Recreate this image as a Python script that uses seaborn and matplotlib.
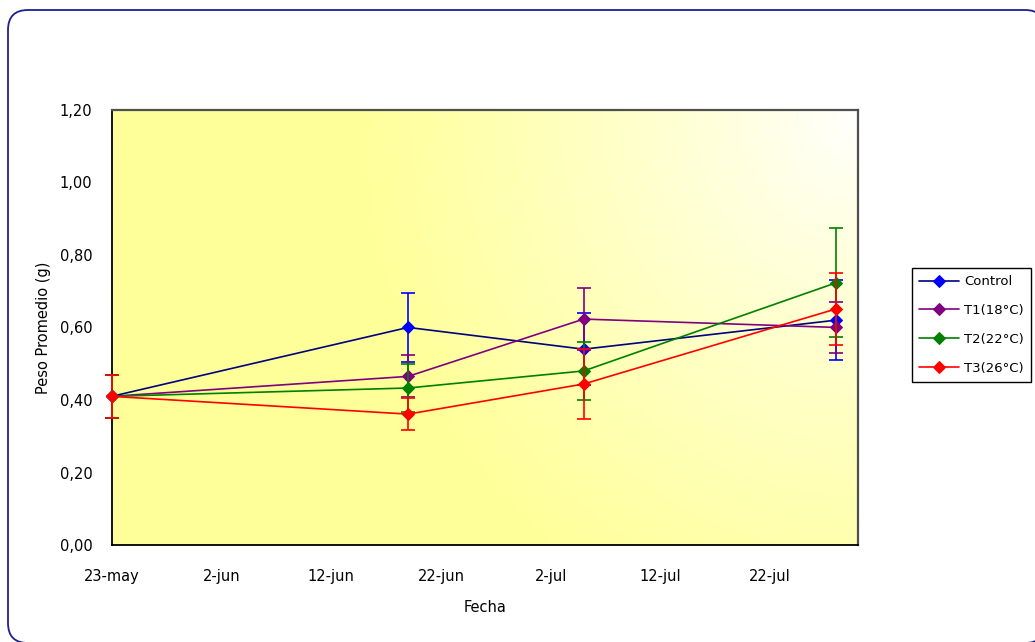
import numpy as np
import pandas as pd
import matplotlib
matplotlib.use("Agg")
import matplotlib.pyplot as plt
from matplotlib.patches import BoxStyle, Polygon
from matplotlib.colors import LinearSegmentedColormap
import seaborn as sns

# Sampling dates and mean weight per treatment (g), with standard deviations
fechas = ["2008-05-23", "2008-06-19", "2008-07-05", "2008-07-28"]
series = ["Control", "T1(18°C)", "T2(22°C)", "T3(26°C)"]
control = [0.41, 0.60, 0.54, 0.62]
control_err = [0.06, 0.095, 0.10, 0.11]
t1 = [0.41, 0.465, 0.623, 0.60]
t1_err = [0.06, 0.058, 0.086, 0.07]
t2 = [0.41, 0.433, 0.48, 0.723]
t2_err = [0.06, 0.065, 0.08, 0.15]
t3 = [0.41, 0.361, 0.444, 0.651]
t3_err = [0.06, 0.045, 0.096, 0.10]

x_ticks = ["2008-05-23", "2008-06-02", "2008-06-12", "2008-06-22",
           "2008-07-02", "2008-07-12", "2008-07-22"]
x_tick_labels = ["23-may", "2-jun", "12-jun", "22-jun", "2-jul", "12-jul", "22-jul"]
y_ticks = [0.0, 0.2, 0.4, 0.6, 0.8, 1.0, 1.2]
y_tick_labels = ["0,00", "0,20", "0,40", "0,60", "0,80", "1,00", "1,20"]

line_colors = ["#000080", "#800080", "#008000", "#FF0000"]
marker_colors = ["#0000FF", "#800080", "#008000", "#FF0000"]

means = [control, t1, t2, t3]
errs = [control_err, t1_err, t2_err, t3_err]

rows = []
for name, m, e in zip(series, means, errs):
    for f, v, s in zip(fechas, m, e):
        rows.append({"Fecha": pd.Timestamp(f), "Peso": v, "Err": s, "Serie": name})
df = pd.DataFrame(rows)

sns.set_style("white")
plt.rcParams["font.family"] = ["DejaVu Sans"]
plt.rcParams["font.size"] = 10
plt.rcParams["text.color"] = "black"
plt.rcParams["axes.labelcolor"] = "black"

fig = plt.figure(figsize=(10.35, 6.42), dpi=100)
ax = fig.add_axes([0.108, 0.151, 0.721, 0.678])

# Yellow-to-white corner gradient behind the plot area
yy, xx = np.mgrid[0:1:200j, 0:1:300j]
t = np.clip(np.sqrt(((1 - xx) / 0.68) ** 2 + ((1 - yy) / 1.3) ** 2), 0, 1) ** 0.85
cmap = LinearSegmentedColormap.from_list("bg", ["#FFFFFF", "#FFFF99"])
ax.imshow(t, cmap=cmap, vmin=0, vmax=1, extent=[0, 1, 0, 1], origin="lower",
          transform=ax.transAxes, aspect="auto", zorder=0)

for i, name in enumerate(series):
    sub = df[df["Serie"] == name]
    eb = ax.errorbar(sub["Fecha"], sub["Peso"], yerr=sub["Err"], fmt="none",
                     ecolor=marker_colors[i], elinewidth=1.2, capsize=5,
                     capthick=1.2, zorder=2 + i)
    for art in eb.lines[1] + eb.lines[2]:
        art.set_clip_on(False)
    sns.lineplot(data=sub, x="Fecha", y="Peso", ax=ax, color=line_colors[i],
                 marker="D", markersize=6, markerfacecolor=marker_colors[i],
                 markeredgecolor=marker_colors[i], linewidth=1.2,
                 label=name, zorder=2.5 + i, errorbar=None, clip_on=False)

ax.set_xlim(pd.Timestamp("2008-05-23"), pd.Timestamp("2008-07-30"))
ax.set_ylim(0, 1.2)
ax.set_xticks([pd.Timestamp(d) for d in x_ticks])
ax.set_xticklabels(x_tick_labels)
ax.set_yticks(y_ticks)
ax.set_yticklabels(y_tick_labels)
ax.tick_params(axis="both", direction="out", length=5, width=1.2, color="black",
               labelsize=10.5, labelcolor="black")
ax.tick_params(axis="y", pad=9)
ax.tick_params(axis="x", pad=12)
ax.set_xlabel("Fecha", fontsize=10.5, labelpad=12, color="black")
ax.set_ylabel("Peso Promedio (g)", fontsize=10.5, labelpad=6, color="black")

for side in ["left", "bottom"]:
    ax.spines[side].set_color("black")
    ax.spines[side].set_linewidth(1.3)
for side in ["top", "right"]:
    ax.spines[side].set_color("#505050")
    ax.spines[side].set_linewidth(1.6)
for s in ax.spines.values():
    s.set_visible(True)
    s.set_zorder(1.5)

leg = ax.legend(loc="upper left", bbox_to_anchor=(0.881, 0.5826),
                bbox_transform=fig.transFigure, borderaxespad=0,
                fancybox=False, framealpha=1, edgecolor="black",
                fontsize=9.5, handlelength=3.0, handletextpad=0.4,
                labelspacing=1.2, borderpad=0.55)
leg.get_frame().set_linewidth(1.0)
leg.set_zorder(20)

# Rounded chart border (pixel units), running past the right and bottom edges
round_box = BoxStyle("Round", pad=0, rounding_size=20)
box_path = round_box(8, -1, 1037, 633, 1.0)
outline = box_path.to_polygons(closed_only=True)[0]
border = Polygon(outline, closed=True, transform=None, fill=False,
                 edgecolor="#1F1F8F", linewidth=1.3, zorder=10)
fig.add_artist(border)

fig.savefig("out.png", dpi=100)
